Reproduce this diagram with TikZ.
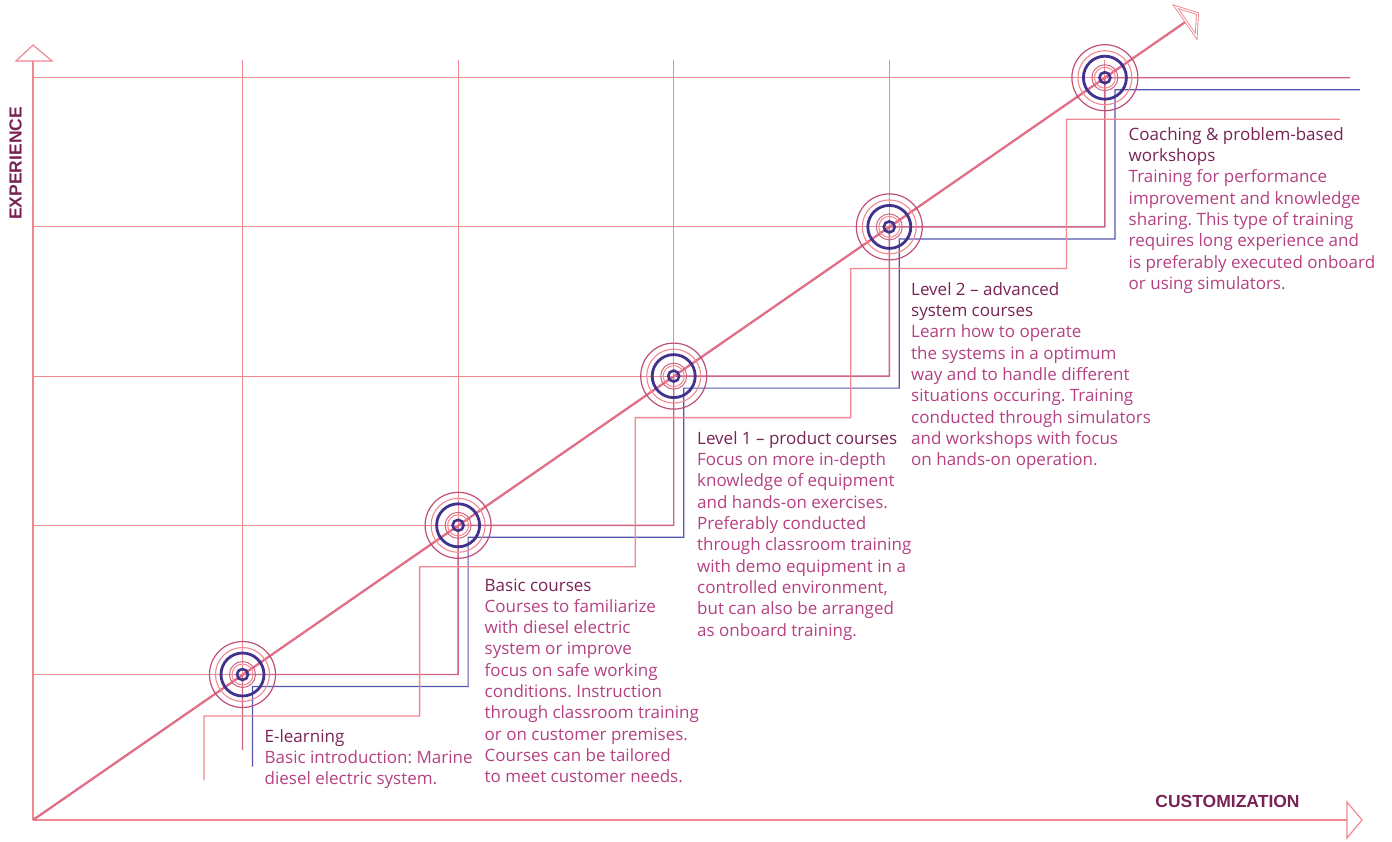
\documentclass[tikz,border=0pt]{standalone}
\usepackage{fontspec}
\setmainfont{Open Sans}
\newfontfamily\axisfont{Liberation Sans}
\usetikzlibrary{calc}
\frenchspacing
\definecolor{gridpink}{RGB}{240,135,145}
\definecolor{mauve}{RGB}{205,100,130}
\definecolor{ringmauve}{RGB}{190,80,120}
\definecolor{bluel}{RGB}{85,85,175}
\definecolor{ringblue}{RGB}{65,50,140}
\definecolor{titlec}{RGB}{120,35,85}
\definecolor{bodyc}{RGB}{180,65,130}
\definecolor{diagc}{RGB}{225,110,135}
\tikzset{
 gridline/.style={gridpink, line width=1.1pt},
 midline/.style={mauve, line width=1.4pt},
 blueline/.style={bluel, line width=1.2pt},
 outline/.style={gridpink, line width=1.3pt},
 axisline/.style={gridpink, line width=1.2pt},
 diagline/.style={diagc, line width=2.3pt},
 arrowtri/.style={gridpink, line width=0.9pt, double=white, double distance=1.1pt, line join=miter},
 desc/.style={anchor=base west, inner sep=0pt, align=left, text=bodyc, font=\fontsize{17}{21.3}\selectfont},
 axislabel/.style={inner sep=0pt, text=titlec, font=\axisfont\bfseries\fontsize{17.5}{20}\selectfont},
}
\newcommand{\ttl}[1]{\textcolor{titlec}{#1}}
\begin{document}
\begin{tikzpicture}[x=1pt,y=-1pt]
\useasboundingbox (0,0) rectangle (1392,841);
\coordinate (o) at (33,820);
\coordinate (top) at (0,60);
\foreach \i in {1,...,5} {
  \coordinate (c\i) at ({242.5+215.6*(\i-1)},{674.5-149.2*(\i-1)});
  \coordinate (b\i) at ({252.5+215.6*(\i-1)},{686.5-149.2*(\i-1)});
  \coordinate (p\i) at ({204+215.6*(\i-1)},{716-149.2*(\i-1)});
}
% grid
\foreach \i in {1,...,5} {
  \draw[gridline] (o |- c\i) -- (c\i);
  \draw[gridline] (c\i |- top) -- (c\i);
}
% staircases
\coordinate (m0) at (242.5,750);
\coordinate (mend) at (1350,77.7);
\draw[midline] (m0) -- (c1) -| (c2) -| (c3) -| (c4) -| (c5) -- (mend);
\coordinate (bb0) at (252.5,766.5);
\coordinate (bend) at (1360,89.7);
\draw[blueline] (bb0) -- (b1) -| (b2) -| (b3) -| (b4) -| (b5) -- (bend);
\coordinate (pp0) at (204,780);
\coordinate (pend) at (1340,119.2);
\draw[outline] (pp0) -- (p1) -| (p2) -| (p3) -| (p4) -| (p5) -- (pend);
% axes
\coordinate (yt) at (33,61);
\coordinate (xt) at (1347,820);
\draw[axisline] (o) -- (yt);
\draw[axisline] (o) -- (xt);
\draw[axisline, line join=miter] (yt) ++(-17,0) -- ++(17,-16) -- ++(19,16) -- cycle;
\draw[axisline, line join=miter] (xt) ++(0,-18) -- ++(15,18) -- ++(-15,18) -- cycle;
% diagonal
\coordinate (ab) at ($(o)!1402.5pt!(c5)$);
\coordinate (at) at ($(o)!1416.5pt!(c5)$);
\coordinate (al) at ($(ab)!18pt!90:(c5)$);
\coordinate (ar) at ($(ab)!18pt!-90:(c5)$);
\draw[diagline] (o) -- (ab);
\draw[arrowtri] (al) -- (at) -- (ar) -- cycle;
% rings
\foreach \i in {1,...,5} {
  \draw[ringmauve, line width=1.2pt] (c\i) circle[radius=33pt];
  \draw[gridpink, line width=1.1pt] (c\i) circle[radius=27pt];
  \draw[ringblue, line width=2.8pt] (c\i) circle[radius=21.5pt];
  \draw[mauve, line width=1pt] (c\i) circle[radius=13pt];
  \draw[gridpink, line width=1pt] (c\i) circle[radius=10.5pt];
  \draw[ringblue, line width=2.6pt] (c\i) circle[radius=5.5pt];
}
% axis labels
\node[axislabel, rotate=90] (ylab) at (15.5,163.3) {EXPERIENCE};
\node[axislabel, anchor=base] (xlab) at (1227.5,807.3) {CUSTOMIZATION};
% texts (base anchor = baseline of the last line)
\node[desc] (t1) at (264.5,784.9) {\ttl{E-learning}\\Basic introduction: Marine\\diesel electric system.};
\node[desc] (t2) at (484.5,782.7) {\ttl{Basic courses}\\Courses to familiarize\\with diesel electric\\system or improve\\focus on safe working\\conditions. Instruction\\through classroom training\\or on customer premises.\\Courses can be tailored\\to meet customer needs.};
\node[desc] (t3) at (697,636) {\ttl{Level 1 – product courses}\\Focus on more in-depth\\knowledge of equipment\\and hands-on exercises.\\Preferably conducted\\through classroom training\\with demo equipment in a\\controlled environment,\\but can also be arranged\\as onboard training.};
\node[desc] (t4) at (911,465.6) {\ttl{Level 2 – advanced}\\\ttl{system courses}\\Learn how to operate\\the systems in a optimum\\way and to handle different\\situations occuring. Training\\conducted through simulators\\and workshops with focus\\on hands-on operation.};
\node[desc] (t5) at (1128.5,289.3) {\ttl{Coaching \& problem-based}\\\ttl{workshops}\\Training for performance\\improvement and knowledge\\sharing. This type of training\\requires long experience and\\is preferably executed onboard\\or using simulators.};
\end{tikzpicture}
\end{document}
